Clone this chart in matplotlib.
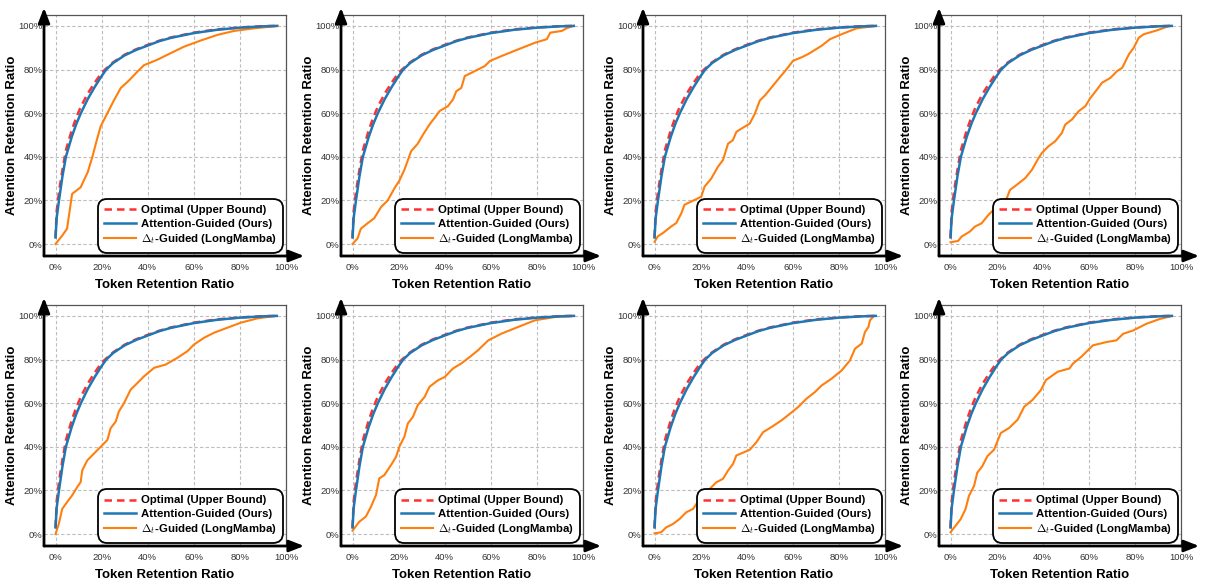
import matplotlib
matplotlib.use("Agg")
import matplotlib.pyplot as plt
from matplotlib.ticker import FuncFormatter

plt.rcParams['font.family'] = ['Liberation Sans', 'DejaVu Sans']
plt.rcParams['mathtext.fontset'] = 'cm'

# ---------------- data ----------------
opt_x = [0, 0.005, 0.015, 0.03, 0.045, 0.07, 0.09, 0.11, 0.14, 0.17, 0.20, 0.215,
         0.25, 0.30, 0.35, 0.40, 0.45, 0.50, 0.60, 0.70, 0.80, 0.90, 0.96]
opt_y = [0.03, 0.15, 0.24, 0.34, 0.43, 0.52, 0.58, 0.63, 0.69, 0.74, 0.785, 0.80,
         0.833, 0.868, 0.893, 0.913, 0.932, 0.947, 0.969, 0.984, 0.993, 0.999, 1.0]

att_x = [0, 0.005, 0.015, 0.03, 0.045, 0.07, 0.09, 0.11, 0.14, 0.17, 0.20, 0.22,
         0.25, 0.30, 0.35, 0.40, 0.45, 0.50, 0.60, 0.70, 0.80, 0.90, 0.96]
att_y = [0.03, 0.12, 0.20, 0.31, 0.40, 0.49, 0.55, 0.60, 0.665, 0.72, 0.77, 0.80,
         0.83, 0.865, 0.89, 0.91, 0.93, 0.945, 0.967, 0.982, 0.992, 0.998, 1.0]

dt_x1 = [0, 0.03, 0.05, 0.072, 0.109, 0.14, 0.16, 0.18, 0.196, 0.225, 0.254, 0.283,
         0.319, 0.355, 0.384, 0.442, 0.486, 0.558, 0.63, 0.703, 0.775, 0.862, 0.965]
dt_y1 = [0.0, 0.04, 0.07, 0.23, 0.26, 0.33, 0.40, 0.48, 0.54, 0.60, 0.66, 0.715,
         0.75, 0.79, 0.82, 0.845, 0.868, 0.905, 0.933, 0.959, 0.977, 0.989, 1.0]

dt_x2 = [0, 0.022, 0.036, 0.065, 0.094, 0.124, 0.153, 0.182, 0.203, 0.225, 0.254,
         0.283, 0.305, 0.334, 0.356, 0.378, 0.414, 0.436, 0.45, 0.472, 0.487, 0.516,
         0.574, 0.596, 0.647, 0.72, 0.792, 0.843, 0.858, 0.908, 0.93, 0.96]
dt_y2 = [0.0, 0.026, 0.07, 0.095, 0.118, 0.17, 0.20, 0.256, 0.29, 0.34, 0.425,
         0.46, 0.50, 0.548, 0.578, 0.61, 0.632, 0.663, 0.70, 0.716, 0.77, 0.785,
         0.816, 0.839, 0.862, 0.893, 0.923, 0.939, 0.969, 0.977, 0.99, 1.0]

dt_x3 = [0, 0.014, 0.036, 0.072, 0.094, 0.116, 0.13, 0.16, 0.203, 0.217, 0.246,
         0.275, 0.297, 0.319, 0.34, 0.355, 0.377, 0.413, 0.435, 0.457, 0.478, 0.514,
         0.543, 0.572, 0.601, 0.638, 0.667, 0.725, 0.761, 0.812, 0.877, 0.962]
dt_y3 = [0.01, 0.035, 0.05, 0.08, 0.096, 0.14, 0.18, 0.195, 0.217, 0.263, 0.30,
         0.354, 0.385, 0.46, 0.476, 0.514, 0.529, 0.552, 0.597, 0.658, 0.68, 0.726,
         0.764, 0.80, 0.84, 0.856, 0.871, 0.909, 0.939, 0.962, 0.989, 1.0]

dt_x4 = [0, 0.033, 0.048, 0.084, 0.106, 0.135, 0.164, 0.186, 0.215, 0.244, 0.258,
         0.287, 0.324, 0.353, 0.382, 0.396, 0.425, 0.454, 0.483, 0.498, 0.527, 0.556,
         0.585, 0.607, 0.636, 0.657, 0.694, 0.723, 0.745, 0.774, 0.795, 0.817, 0.839,
         0.897, 0.948]
dt_y4 = [0.008, 0.014, 0.034, 0.057, 0.08, 0.095, 0.133, 0.156, 0.179, 0.21, 0.248,
         0.271, 0.302, 0.34, 0.394, 0.417, 0.448, 0.471, 0.509, 0.548, 0.571, 0.609,
         0.632, 0.67, 0.709, 0.739, 0.762, 0.793, 0.808, 0.87, 0.90, 0.946, 0.962,
         0.98, 1.0]

dt_x5 = [0, 0.014, 0.029, 0.05, 0.072, 0.094, 0.109, 0.116, 0.138, 0.167, 0.196,
         0.225, 0.239, 0.261, 0.275, 0.297, 0.326, 0.355, 0.384, 0.428, 0.478, 0.529,
         0.572, 0.601, 0.645, 0.688, 0.746, 0.804, 0.877, 0.955]
dt_y5 = [0.0, 0.046, 0.115, 0.146, 0.177, 0.215, 0.238, 0.292, 0.338, 0.369, 0.40,
         0.431, 0.485, 0.515, 0.562, 0.60, 0.662, 0.692, 0.723, 0.762, 0.777, 0.808,
         0.838, 0.869, 0.90, 0.923, 0.946, 0.969, 0.989, 1.0]

dt_x6 = [0, 0.029, 0.058, 0.08, 0.102, 0.116, 0.138, 0.167, 0.189, 0.203, 0.225,
         0.24, 0.262, 0.283, 0.313, 0.334, 0.371, 0.40, 0.436, 0.472, 0.509, 0.545,
         0.589, 0.647, 0.72, 0.792, 0.879, 0.962]
dt_y6 = [0.015, 0.056, 0.08, 0.125, 0.179, 0.255, 0.27, 0.316, 0.354, 0.40, 0.446,
         0.507, 0.537, 0.591, 0.629, 0.675, 0.705, 0.72, 0.759, 0.782, 0.812, 0.843,
         0.888, 0.919, 0.95, 0.98, 0.995, 1.0]

dt_x7 = [0, 0.029, 0.05, 0.08, 0.109, 0.138, 0.167, 0.196, 0.232, 0.268, 0.297,
         0.319, 0.341, 0.355, 0.377, 0.413, 0.442, 0.471, 0.507, 0.551, 0.587, 0.623,
         0.659, 0.696, 0.725, 0.768, 0.812, 0.848, 0.87, 0.899, 0.913, 0.928, 0.935,
         0.952]
dt_y7 = [0.003, 0.008, 0.03, 0.046, 0.069, 0.10, 0.115, 0.16, 0.199, 0.237, 0.253,
         0.291, 0.322, 0.36, 0.37, 0.386, 0.421, 0.467, 0.49, 0.521, 0.551, 0.582,
         0.62, 0.651, 0.681, 0.712, 0.75, 0.796, 0.85, 0.873, 0.926, 0.949, 0.98,
         1.0]

dt_x8 = [0, 0.022, 0.044, 0.065, 0.08, 0.102, 0.116, 0.138, 0.16, 0.189, 0.218,
         0.254, 0.291, 0.32, 0.356, 0.392, 0.414, 0.465, 0.516, 0.531, 0.567, 0.589,
         0.618, 0.676, 0.72, 0.749, 0.792, 0.85, 0.908, 0.962]
dt_y8 = [0.008, 0.038, 0.068, 0.114, 0.175, 0.22, 0.281, 0.311, 0.357, 0.387, 0.463,
         0.486, 0.524, 0.584, 0.615, 0.66, 0.706, 0.744, 0.759, 0.781, 0.812, 0.835,
         0.865, 0.88, 0.888, 0.918, 0.933, 0.964, 0.986, 1.0]

dt_xs = [dt_x1, dt_x2, dt_x3, dt_x4, dt_x5, dt_x6, dt_x7, dt_x8]
dt_ys = [dt_y1, dt_y2, dt_y3, dt_y4, dt_y5, dt_y6, dt_y7, dt_y8]

labels = ["Optimal (Upper Bound)", "Attention-Guided (Ours)", r"$\Delta_t$-Guided (LongMamba)"]
ticks = [0, 0.2, 0.4, 0.6, 0.8, 1.0]

# ---------------- layout ----------------
W, H = 1205, 579
fig = plt.figure(figsize=(W / 100, H / 100), dpi=100)
lefts = [44, 341, 643, 939]
tops = [15, 305]
aw, ah = 242, 241

pct = FuncFormatter(lambda v, p: f"{int(round(v * 100))}%")

for i in range(8):
    r, c = divmod(i, 4)
    ax = fig.add_axes([lefts[c] / W, (H - tops[r] - ah) / H, aw / W, ah / H])
    ax.plot(opt_x, opt_y, color='#ff3030', lw=1.8, ls=(0, (3, 2)), label=labels[0], zorder=3)
    ax.plot(att_x, att_y, color='#1f77b4', lw=1.8, label=labels[1], zorder=4)
    ax.plot(dt_xs[i], dt_ys[i], color='#ff7f0e', lw=1.5, label=labels[2], zorder=2)

    ax.set_xlim(-0.05, 1.0)
    ax.set_ylim(-0.055, 1.05)
    ax.set_xticks(ticks)
    ax.set_yticks(ticks)
    ax.xaxis.set_major_formatter(pct)
    ax.yaxis.set_major_formatter(pct)
    ax.tick_params(axis='x', length=0, labelsize=6.8, labelcolor='#333333', pad=5)
    ax.tick_params(axis='y', length=0, labelsize=6.8, labelcolor='#333333', pad=1)
    ax.grid(True, ls=(0, (3, 2)), color='#bdbdbd', lw=0.8)
    ax.set_axisbelow(True)

    for s in ['top', 'right']:
        ax.spines[s].set_color('#555555')
        ax.spines[s].set_linewidth(0.9)
    for s in ['left', 'bottom']:
        ax.spines[s].set_visible(False)

    ap = dict(arrowstyle='-|>,head_length=0.9,head_width=0.35', lw=2, color='black',
              shrinkA=0, shrinkB=0, mutation_scale=10)
    ax.annotate('', xy=(0, 1.03), xytext=(0, 0), xycoords='axes fraction',
                textcoords='axes fraction', arrowprops=ap, annotation_clip=False)
    ax.annotate('', xy=(1.075, 0), xytext=(0, 0), xycoords='axes fraction',
                textcoords='axes fraction', arrowprops=ap, annotation_clip=False)

    ax.set_xlabel("Token Retention Ratio", fontsize=9.5, fontweight='bold', labelpad=5)
    ax.set_ylabel("Attention Retention Ratio", fontsize=9.5, fontweight='bold', labelpad=0)

    leg = ax.legend(loc='lower right', prop={'weight': 'bold', 'size': 8.2},
                    frameon=True, fancybox=True, framealpha=1, edgecolor='black',
                    handlelength=2.8, handletextpad=0.4, labelspacing=0.3,
                    borderpad=0.55, borderaxespad=0.3)
    leg.get_frame().set_linewidth(1.3)
    leg.get_frame().set_boxstyle('round,pad=0.0,rounding_size=0.8')

fig.savefig("out.png", dpi=100)
